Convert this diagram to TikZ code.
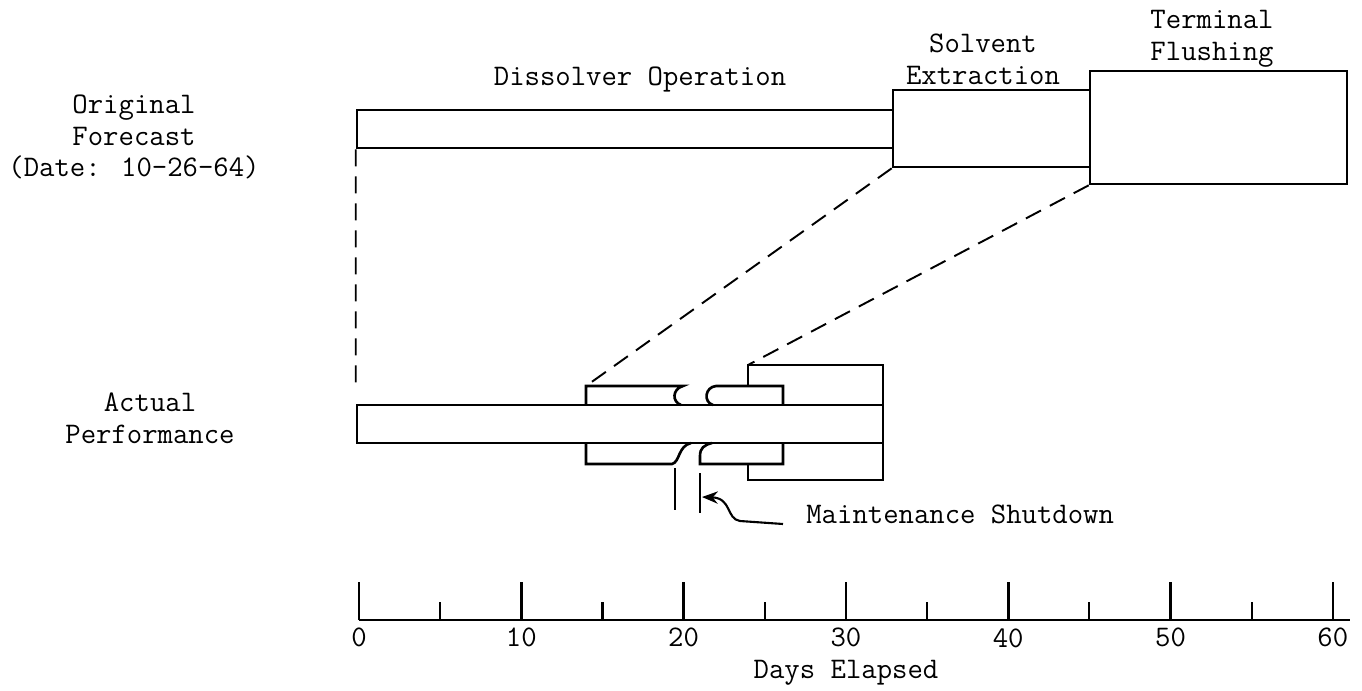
\documentclass[tikz,border=0pt]{standalone}
\usepackage{fontspec}
\usetikzlibrary{arrows.meta}

\tikzset{
  box/.style={draw, line width=1.5pt, inner sep=0pt},
  part/.style={line width=1.5pt},
  thin part/.style={line width=1.2pt},
  guide/.style={line width=1.1pt, dash pattern=on 0.34cm off 0.2cm},
  lbl/.style={font=\ttfamily\fontsize{17}{18}\selectfont, align=center, inner sep=0pt},
}

\begin{document}
\begin{tikzpicture}[x=0.02cm, y=-0.02cm]
\useasboundingbox (0,0) rectangle (1362,690);

% original forecast
\node[box, minimum width=10.72cm, minimum height=0.76cm] (diss) at (625,129) {};
\node[box, minimum width=3.94cm, minimum height=1.54cm] (solv) at (991.5,128.5) {};
\node[box, minimum width=5.14cm, minimum height=2.26cm] (term) at (1218.5,127.5) {};

\node[lbl] (dissl) at (640,80) {Dissolver Operation};
\node[lbl] (solvl) at (983,59) {Solvent\\Extraction};
\node[lbl] (terml) at (1212,39) {Terminal\\Flushing};
\node[lbl] (orig) at (134,137) {Original\\Forecast\\(Date: 10-26-64)};
\node[lbl] (act) at (150,418) {Actual\\Performance};

% actual performance
\node[box, minimum width=10.52cm, minimum height=0.76cm] (bar) at (620,424) {};
\coordinate (upl) at (586,386);
\coordinate (brk) at (748,365);

\draw[part] (586,405) -- (upl) -- (683,386) .. controls (672,389) and (672,402) .. (681,405);
\draw[part] (713,405) .. controls (703,402) and (705,387) .. (716,386) -- (783,386) -- (783,405);
\draw[part] (586,443) -- (586,464) -- (672,464) .. controls (680,462) and (678,446) .. (691,443);
\draw[part] (712,443) .. controls (704,445) and (700,448) .. (700,456) -- (700,464) -- (783,464) -- (783,443);
\draw[part] (748,386) -- (brk) -- (883,365) -- (883,480) -- (748,480) -- (748,464);

% shutdown
\draw[thin part] (675,468) -- (675,510);
\draw[thin part] (700,473) -- (700,513);
\node[lbl, anchor=west] (mnt) at (806,514) {Maintenance Shutdown};
\coordinate (tip) at (702,497);
\draw[thin part, -{Stealth[length=9pt,width=7pt]}] ([xshift=-0.46cm,yshift=-0.2cm]mnt.west)
  -- (740,521) .. controls (726,519) and (732,498) .. (tip);

% dashed guides
\draw[guide] (diss.south west) -- ([yshift=0.34cm]bar.north west);
\draw[guide] (solv.south west) -- (upl);
\draw[guide] (term.south west) -- (brk);

% time axis
\coordinate (ax0) at (359,620);
\coordinate (ax1) at (1350,620);
\draw[part] (ax0) -- (ax1);
\foreach \d in {0,10,...,60} {
  \draw[part] ({359+16.23*\d},620) -- ++(0,-38);
  \node[lbl, anchor=north] (n\d) at ({359+16.23*\d},628) {\d};
}
\foreach \d in {5,15,...,55}
  \draw[thin part] ({359+16.23*\d},620) -- ++(0,-18);
\node[lbl] (days) at (846,673) {Days Elapsed};
\end{tikzpicture}
\end{document}
